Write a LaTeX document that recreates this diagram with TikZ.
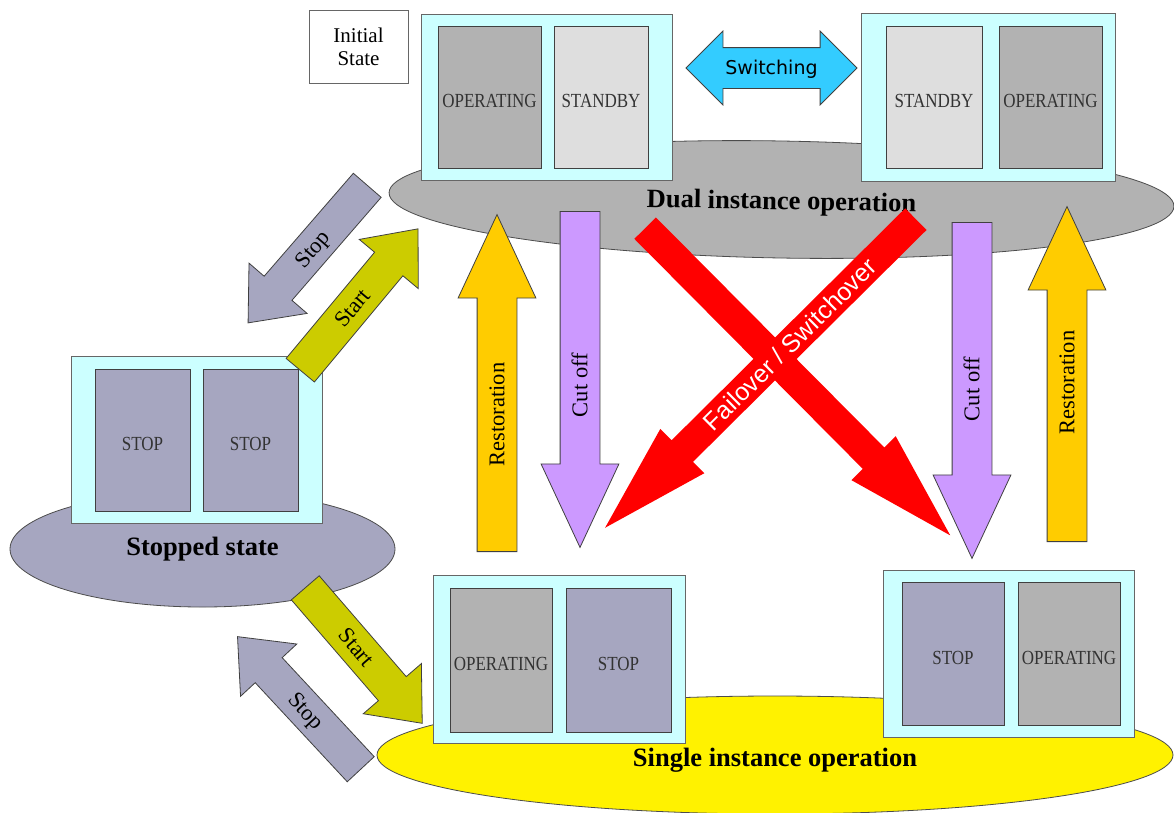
\documentclass[tikz,border=0pt]{standalone}
\usepackage{fontspec}
\setmainfont{Liberation Serif}
\newfontfamily\cellfamily[FakeStretch=0.85]{Liberation Serif}
\newfontfamily\arialfamily{Liberation Sans}
\newfontfamily\dejavufamily{DejaVu Sans}
\usetikzlibrary{shapes.arrows, shapes.geometric}

\definecolor{panelcyan}{HTML}{CCFFFF}
\definecolor{opgray}{HTML}{B2B2B2}
\definecolor{sbgray}{HTML}{DEDEDE}
\definecolor{stopblue}{HTML}{A6A6C0}
\definecolor{restorecol}{HTML}{FFCC00}
\definecolor{cutcol}{HTML}{CC99FF}
\definecolor{startcol}{HTML}{CCCC00}
\definecolor{switchcol}{HTML}{33CCFF}

\newcommand{\cellfont}{\cellfamily\fontsize{20}{22}\selectfont}
\newcommand{\platefont}{\bfseries\fontsize{26.5}{28}\selectfont}
\newcommand{\tagfont}{\fontsize{22.5}{24}\selectfont}
\newcommand{\failfont}{\arialfamily\fontsize{25}{27}\selectfont}
\newcommand{\switchfont}{\dejavufamily\fontsize{19}{21}\selectfont}

\begin{document}
\begin{tikzpicture}[x=1pt, y=-1pt,
        panel/.style={draw=black!60, fill=panelcyan, line width=0.8pt, minimum width=251pt, minimum height=167pt},
        cell/.style={draw=black!75, line width=0.8pt, minimum height=142pt, inner sep=0pt, text height=21pt, text depth=0pt,
            font=\cellfont, text=black!80},
        opcell/.style={cell, fill=opgray},
        sbcell/.style={cell, fill=sbgray},
        stopcell/.style={cell, fill=stopblue},
        plate/.style={ellipse, draw=black!70, line width=0.8pt, inner sep=0pt, font=\platefont},
        fatarrow/.style={single arrow, anchor=tail, inner sep=0pt, single arrow head indent=0pt},
        vertarrow/.style={fatarrow, draw=black!75, line width=0.8pt, rotate=90, minimum width=77pt,
            single arrow head extend=19pt, single arrow tip angle=50, text height=26.8pt, text depth=12.2pt, font=\tagfont},
        steparrow/.style={fatarrow, draw=black!75, line width=0.8pt, minimum width=76pt,
            single arrow head extend=20pt, single arrow tip angle=80, text height=25.3pt, text depth=10.7pt, font=\tagfont},
        redarrow/.style={fatarrow, fill=red, minimum width=62pt, single arrow head extend=16pt,
            single arrow tip angle=32, text height=24pt, text depth=6pt, font=\failfont, text=white}]

    \path[use as bounding box, fill=white] (0,0) rectangle (1174,812);

    \node[plate, fill=opgray, minimum width=785pt, minimum height=117pt, rotate=-1, text height=26pt, text depth=6pt] (dualplate) at (781.5,199.5) {Dual instance operation};
    \node[plate, fill=stopblue, minimum width=385pt, minimum height=116pt] (stopplate) at (202.5,549) {Stopped state};
    \node[plate, fill=yellow, minimum width=796pt, minimum height=118pt, text height=28pt, text depth=6pt] (singleplate) at (775,755) {Single instance operation};

    \node[panel, minimum height=166pt] (dualA) at (546.5,97) {};
    \node[opcell, minimum width=103pt] (dualAop) at (489.5,97) {OPERATING};
    \node[sbcell, minimum width=94pt] (dualAsb) at (601,97) {STANDBY};

    \node[panel, minimum width=254pt, minimum height=168pt] (dualB) at (988,97) {};
    \node[sbcell, minimum width=96pt] (dualBsb) at (934,97) {STANDBY};
    \node[opcell, minimum width=103pt] (dualBop) at (1050.5,97) {OPERATING};

    \node[panel] (stopped) at (196.5,439.5) {};
    \node[stopcell, minimum width=95pt] (stoppedA) at (142.5,440) {STOP};
    \node[stopcell, minimum width=95pt] (stoppedB) at (250.5,440) {STOP};

    \node[panel, minimum width=252pt, minimum height=168pt] (singleA) at (559,659) {};
    \node[opcell, minimum width=102pt, minimum height=144pt] (singleAop) at (501,660) {OPERATING};
    \node[stopcell, minimum width=105pt, minimum height=144pt] (singleAst) at (618.5,660) {STOP};

    \node[panel] (singleB) at (1008.5,653.5) {};
    \node[stopcell, minimum width=102pt, minimum height=143pt] (singleBst) at (953,653.5) {STOP};
    \node[opcell, minimum width=102pt, minimum height=143pt] (singleBop) at (1069,653.5) {OPERATING};

    \node[draw=black!60, line width=0.8pt, minimum width=99pt, minimum height=73pt, align=center,
        font=\fontsize{21}{23}\selectfont] (initial) at (358.5,46.5) {Initial\\State};

    \node[vertarrow, fill=restorecol, minimum height=337pt] (restoreL) at (497,552) {Restoration\hspace*{20pt}};
    \node[vertarrow, fill=cutcol, shape border rotate=180, minimum height=336pt] (cutL) at (580,211) {Cut off\hspace*{54pt}};
    \node[vertarrow, fill=cutcol, shape border rotate=180, minimum height=336pt] (cutR) at (972,222) {Cut off\hspace*{40pt}};
    \node[vertarrow, fill=restorecol, minimum height=335pt] (restoreR) at (1067,542) {\hspace*{26pt}Restoration};

    \node[redarrow, rotate=-45.2, minimum height=433pt] (failR) at (645,228) {};
    \node[redarrow, rotate=44.8, shape border rotate=180, minimum height=438pt] (failL) at (916,219) {\hspace*{30pt}Failover / Switchover};

    \node[steparrow, fill=stopblue, rotate=49.1, shape border rotate=180, minimum height=182pt] (stopUp) at (367.5,185) {Stop\hspace*{8pt}};
    \node[steparrow, fill=startcol, rotate=50.2, minimum height=184pt] (startUp) at (300,370.5) {Start};
    \node[steparrow, fill=startcol, rotate=-49.2, minimum height=179pt] (startDn) at (305,587.5) {Start};
    \node[steparrow, fill=stopblue, rotate=-47.1, shape border rotate=180, minimum height=181pt] (stopDn) at (361,769.5) {Stop};

    \node[double arrow, draw=black!75, line width=0.8pt, fill=switchcol, minimum height=171pt, minimum width=73pt,
        double arrow head extend=16.5pt, double arrow tip angle=90, inner sep=0pt, text height=26.5pt, text depth=13.5pt,
        font=\switchfont] (switch) at (771.5,68) {Switching};
\end{tikzpicture}
\end{document}
